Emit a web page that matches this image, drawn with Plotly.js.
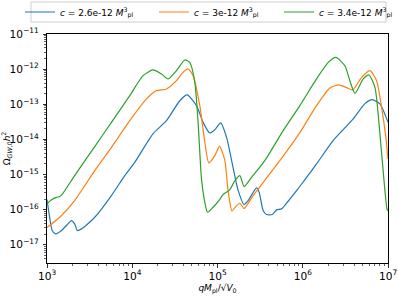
<!DOCTYPE html>
<html>
<head>
<meta charset="utf-8">
<script src="https://cdn.plot.ly/plotly-3.0.1.min.js"></script>
<style>html,body{margin:0;padding:0;background:#fff;}#chart{width:399px;height:299px;}</style>
</head>
<body>
<div id="chart"></div>
<script>
// Series: c = 2.6e-12 M_pl^3 (blue)
const qBlue = [1.00e3,1.08e3,1.15e3,1.26e3,1.48e3,1.76e3,1.93e3,2.11e3,2.27e3,2.54e3,3.63e3,5.70e3,8.17e3,1.07e4,1.75e4,2.52e4,3.61e4,4.40e4,5.67e4,6.78e4,8.12e4,9.30e4,1.09e5,1.28e5,1.52e5,1.75e5,2.05e5,2.29e5,2.87e5,3.08e5,3.43e5,3.76e5,4.38e5,4.93e5,5.64e5,6.74e5,8.46e5,1.04e6,1.45e6,2.27e6,3.91e6,5.36e6,6.53e6,8.04e6,1.00e7];
const omegaBlue = [1.93e-16,5.56e-17,2.54e-17,2.04e-17,2.54e-17,3.94e-17,4.88e-17,3.94e-17,2.54e-17,2.83e-17,6.05e-17,2.51e-16,9.31e-16,2.22e-15,1.43e-14,3.41e-14,1.26e-13,1.84e-13,9.12e-14,3.05e-14,1.52e-14,1.89e-14,2.94e-14,1.12e-14,1.60e-15,3.48e-16,1.39e-16,1.81e-16,4.16e-16,3.12e-16,9.40e-17,7.23e-17,7.23e-17,9.84e-17,1.05e-16,1.73e-16,3.48e-16,6.71e-16,2.00e-15,9.23e-15,3.82e-14,1.04e-13,1.35e-13,1.02e-13,3.05e-14];

// Series: c = 3e-12 M_pl^3 (orange)
const qOrange = [1.00e3,1.41e3,2.11e3,3.63e3,5.70e3,9.35e3,1.47e4,1.92e4,2.52e4,3.30e4,3.94e4,4.52e4,5.17e4,6.20e4,7.10e4,7.91e4,9.30e4,1.06e5,1.22e5,1.33e5,1.48e5,1.64e5,1.83e5,2.05e5,2.62e5,3.76e5,5.89e5,9.25e5,1.45e6,2.08e6,2.61e6,3.21e6,3.85e6,4.90e6,6.14e6,7.35e6,8.41e6,9.44e6,1.00e7];
const omegaOrange = [3.08e-17,6.05e-17,1.81e-16,1.29e-15,5.94e-15,3.41e-14,1.42e-13,2.44e-13,2.72e-13,4.69e-13,8.09e-13,1.01e-12,6.52e-13,9.12e-14,8.24e-15,2.14e-15,3.45e-15,6.43e-15,2.48e-15,3.48e-16,9.10e-17,1.22e-16,1.52e-16,1.07e-16,2.51e-16,7.91e-16,3.33e-15,1.56e-14,9.12e-14,2.91e-13,3.54e-13,3.03e-13,2.55e-13,5.82e-13,9.03e-13,4.69e-13,8.17e-14,1.14e-14,2.78e-15];

// Series: c = 3.4e-12 M_pl^3 (green)
const qGreen = [1.00e3,1.14e3,1.29e3,1.41e3,1.53e3,2.11e3,3.63e3,5.70e3,9.35e3,1.34e4,1.75e4,2.20e4,2.63e4,3.30e4,4.13e4,4.73e4,5.42e4,5.92e4,6.49e4,7.10e4,7.63e4,8.88e4,1.06e5,1.16e5,1.39e5,1.60e5,1.83e5,2.05e5,2.51e5,3.59e5,5.89e5,9.25e5,1.45e6,1.99e6,2.45e6,3.12e6,3.57e6,4.09e6,5.12e6,5.97e6,7.03e6,8.04e6,9.20e6,9.79e6,1.00e7];
const omegaGreen = [1.46e-16,1.93e-16,2.24e-16,2.35e-16,2.86e-16,9.31e-16,6.22e-15,3.05e-14,1.76e-13,6.52e-13,9.46e-13,7.28e-13,5.25e-13,9.03e-13,1.82e-12,1.56e-12,4.20e-13,3.05e-14,7.50e-16,1.62e-16,8.41e-17,1.17e-16,1.93e-16,2.68e-16,3.65e-16,6.70e-16,9.31e-16,4.53e-16,8.32e-16,2.48e-15,1.77e-14,9.12e-14,5.25e-13,1.56e-12,2.16e-12,1.25e-12,4.69e-13,2.04e-13,5.25e-13,6.82e-13,3.03e-13,1.43e-14,3.48e-16,9.84e-17,9.5e-17];

const seriesNames = [
  "<i>c</i> = 2.6e-12 <i>M</i><sup>3</sup><sub>pl</sub>",
  "<i>c</i> = 3e-12 <i>M</i><sup>3</sup><sub>pl</sub>",
  "<i>c</i> = 3.4e-12 <i>M</i><sup>3</sup><sub>pl</sub>"
];
const colors = ["#1f77b4", "#ff7f0e", "#2ca02c"];
const legendIds = ["legend", "legend2", "legend3"];

const xs = [qBlue, qOrange, qGreen];
const ys = [omegaBlue, omegaOrange, omegaGreen];

const traces = xs.map((x, i) => ({
  x: x, y: ys[i], type: "scatter", mode: "lines", name: seriesNames[i],
  legend: legendIds[i],
  line: {color: colors[i], width: 1.2, shape: "spline", smoothing: 0.6}
}));

const font = {family: "DejaVu Sans, sans-serif", size: 9, color: "#000"};
const tickFont = {family: "DejaVu Sans, sans-serif", size: 8.5, color: "#000"};

function legendAt(x) {
  return {
    orientation: "h", x: x, y: 1.096, xanchor: "left", yanchor: "middle",
    borderwidth: 0, bgcolor: "rgba(0,0,0,0)",
    font: {family: "DejaVu Sans, sans-serif", size: 9, color: "#000"},
    itemwidth: 30
  };
}

const layout = {
  width: 399, height: 299,
  margin: {l: 47, r: 11, t: 34, b: 36, pad: 0, autoexpand: false},
  paper_bgcolor: "#fff", plot_bgcolor: "#fff",
  font: font,
  showlegend: true,
  legend: legendAt(-0.0792),
  legend2: legendAt(0.3138),
  legend3: legendAt(0.6804),
  shapes: [{
    type: "rect", xref: "paper", yref: "paper",
    x0: -0.0469, x1: 0.9941, y0: 1.0524, y1: 1.1397,
    line: {color: "#cccccc", width: 1}, fillcolor: "rgba(255,255,255,0.8)", layer: "below"
  }],
  xaxis: {
    type: "log", range: [3, 7], dtick: 1, exponentformat: "power",
    showgrid: false, zeroline: false, automargin: true,
    showline: true, linecolor: "#000", linewidth: 1, mirror: true,
    ticks: "outside", ticklen: 3.5, tickwidth: 0.8, tickcolor: "#000",
    minor: {ticks: "outside", ticklen: 2, tickwidth: 0.6, tickcolor: "#000", dtick: "D1", showgrid: false},
    tickfont: tickFont,
    title: {text: "<i>qM</i><sub>pl</sub>/√<i>V</i><sub>0</sub>", font: font, standoff: 2}
  },
  yaxis: {
    type: "log", range: [-17.52, -11], dtick: 1, exponentformat: "power",
    showgrid: false, zeroline: false, automargin: true,
    showline: true, linecolor: "#000", linewidth: 1, mirror: true,
    ticks: "outside", ticklen: 3.5, tickwidth: 0.8, tickcolor: "#000",
    ticklabelstandoff: 2,
    minor: {ticks: "outside", ticklen: 2, tickwidth: 0.6, tickcolor: "#000", dtick: "D1", showgrid: false},
    tickfont: tickFont,
    title: {text: "Ω<sub><i>GW</i>,0</sub><i>h</i><sup>2</sup>", font: font, standoff: 17}
  }
};

Plotly.newPlot("chart", traces, layout, {staticPlot: true, displayModeBar: false});
</script>
</body>
</html>
